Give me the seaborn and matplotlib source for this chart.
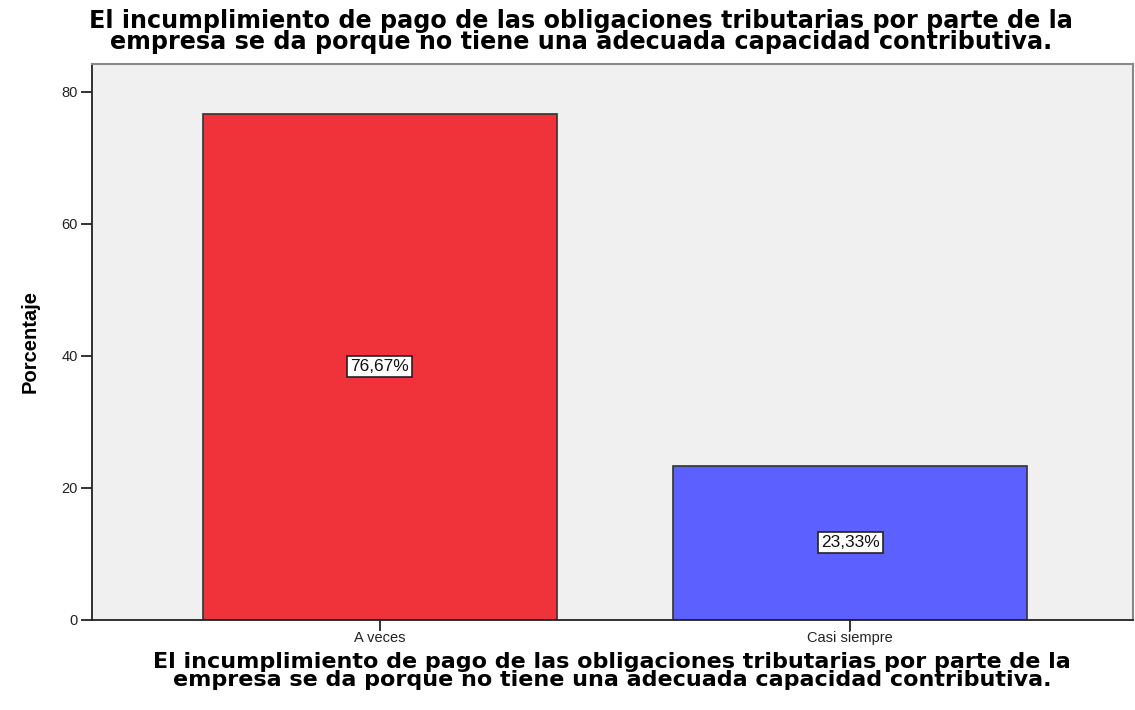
import pandas as pd
import numpy as np
import matplotlib
matplotlib.use("Agg")
import matplotlib.pyplot as plt
import seaborn as sns

categorias = ["A veces", "Casi siempre"]
porcentajes = [76.67, 23.33]
etiquetas = ["76,67%", "23,33%"]
colores = ["#F0323A", "#5B60FF"]
yticks = [0, 20, 40, 60, 80]

titulo = ("El incumplimiento de pago de las obligaciones tributarias por parte de la\n"
          "empresa se da porque no tiene una adecuada capacidad contributiva.")

df = pd.DataFrame({"categoria": categorias, "porcentaje": porcentajes})

sns.set_style("white")
plt.rcParams['font.family'] = ['Liberation Sans', 'DejaVu Sans']

fig = plt.figure(figsize=(11.35, 7.1), dpi=100)
ax = fig.add_axes([0.081, 0.127, 0.917, 0.783])
ax.set_facecolor("#F0F0F0")

sns.barplot(data=df, x="categoria", y="porcentaje", hue="categoria",
            palette=colores, saturation=1, width=0.752, edgecolor="#333333",
            linewidth=1.2, legend=False, ax=ax)

ax.set_xlim(-0.611, 1.6)
ax.set_ylim(0, 84.2)
ax.set_yticks(yticks)
ax.tick_params(axis="both", direction="out", length=8, width=1.3, color="#222222",
               labelsize=10.5, labelcolor="#222222", bottom=True, left=True)
ax.tick_params(axis="y", pad=2)
ax.tick_params(axis="x", pad=0)

for i, (v, lab) in enumerate(zip(porcentajes, etiquetas)):
    ax.text(i, v / 2, lab, ha="center", va="center", fontsize=12.5, color="#111111",
            bbox=dict(boxstyle="square,pad=0.18", facecolor="white", edgecolor="#222222", linewidth=1.2))

for s in ["left", "bottom"]:
    ax.spines[s].set_color("#222222")
    ax.spines[s].set_linewidth(1.3)
for s in ["top", "right"]:
    ax.spines[s].set_color("#888888")
    ax.spines[s].set_linewidth(1.5)

ax.set_ylabel("Porcentaje", fontsize=14.5, fontweight="bold", color="black", labelpad=16)
ax.set_xlabel(titulo, fontsize=16, fontweight="bold", family="DejaVu Sans",
              color="black", linespacing=0.86, labelpad=5)

fig.text(0.512, 0.988, titulo, ha="center", va="top", fontsize=17.2, fontweight="bold",
         family="DejaVu Sans", color="black", linespacing=0.88)

fig.savefig("out.png", dpi=100)
